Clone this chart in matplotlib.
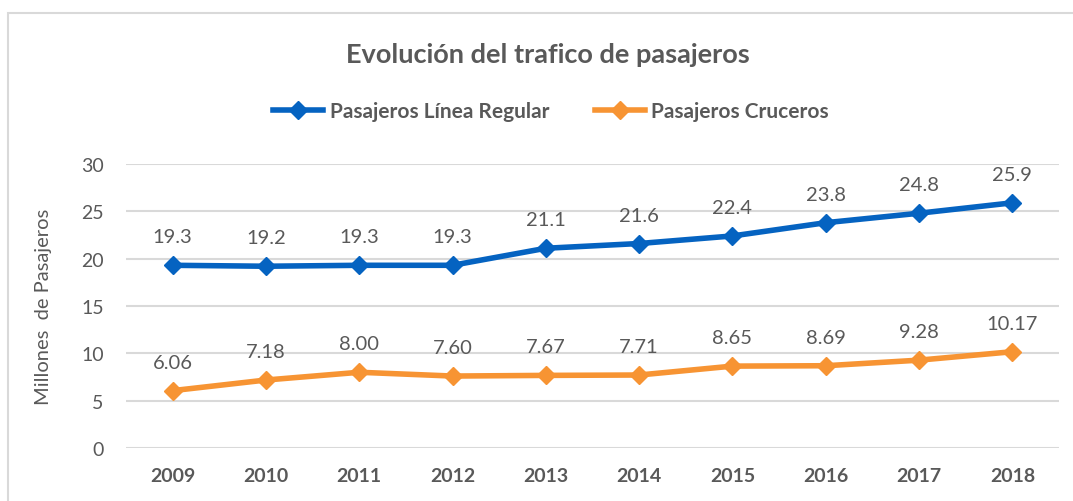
import matplotlib

matplotlib.use("Agg")
import matplotlib.pyplot as plt
from matplotlib.lines import Line2D
from matplotlib.patches import Rectangle

years = ["2009", "2010", "2011", "2012", "2013", "2014", "2015", "2016", "2017", "2018"]
regular = [19.3, 19.2, 19.3, 19.3, 21.1, 21.6, 22.4, 23.8, 24.8, 25.9]
cruceros = [6.06, 7.18, 8.00, 7.60, 7.67, 7.71, 8.65, 8.69, 9.28, 10.17]
regular_labels = [f"{v:.1f}" for v in regular]
cruceros_labels = [f"{v:.2f}" for v in cruceros]

BLUE = "#0563C1"
ORANGE = "#F79433"
TEXT = "#595959"
GRID = "#D9D9D9"

plt.rcParams["font.family"] = ["Lato", "DejaVu Sans"]

W, H = 1073, 502
fig = plt.figure(figsize=(W / 100, H / 100), dpi=100)

# outer chart frame
fig.patches.append(
    Rectangle((8 / W, -0.1), 1.2, 1 - 14 / H + 0.1, transform=fig.transFigure,
              fill=False, edgecolor="#D9D9D9", linewidth=1.5)
)

ax = fig.add_axes([126 / W, 1 - 449 / H, (1059 - 126) / W, (449 - 165) / H])
x = list(range(len(years)))

ax.plot(x, regular, color=BLUE, linewidth=4, marker="D", markersize=9,
        solid_capstyle="round")
ax.plot(x, cruceros, color=ORANGE, linewidth=4, marker="D", markersize=9,
        solid_capstyle="round")

for series, labels in ((regular, regular_labels), (cruceros, cruceros_labels)):
    for xi, v, lab in zip(x, series, labels):
        ax.annotate(lab, (xi, v), xytext=(0, 23), textcoords="offset pixels",
                    ha="center", va="baseline", fontsize=14.5, color=TEXT)

ax.set_xlim(-0.5, len(years) - 0.5)
ax.set_ylim(0, 30)
ax.set_yticks(range(0, 31, 5))
ax.set_xticks(x)
ax.set_xticklabels(years, fontweight="bold", fontsize=14.5)
ax.tick_params(axis="both", length=0, labelsize=14, labelcolor=TEXT)
ax.tick_params(axis="x", pad=14)
ax.tick_params(axis="y", pad=16)
ax.grid(axis="y", color=GRID, linewidth=1.5)
ax.set_axisbelow(True)
for side in ax.spines.values():
    side.set_visible(False)

fig.text(44 / W, 1 - 307 / H, "Millones  de Pasajeros", rotation=90,
         ha="center", va="center", fontsize=14.5, color=TEXT)

fig.text(548 / W, 1 - 55 / H, "Evolución del trafico de pasajeros",
         ha="center", va="center", fontsize=19.5, fontweight="bold", color=TEXT)

handles = [
    Line2D([], [], color=BLUE, linewidth=4, marker="D", markersize=9),
    Line2D([], [], color=ORANGE, linewidth=4, marker="D", markersize=9),
]
leg = fig.legend(handles, ["Pasajeros Línea Regular", "Pasajeros Cruceros"],
                 loc="center", bbox_to_anchor=(551 / W, 1 - 112 / H), ncol=2,
                 frameon=False, handlelength=2.4, handletextpad=0.3,
                 columnspacing=2.2,
                 prop={"size": 15, "weight": "bold"})
for t in leg.get_texts():
    t.set_color(TEXT)

fig.savefig("out.png", dpi=100)
